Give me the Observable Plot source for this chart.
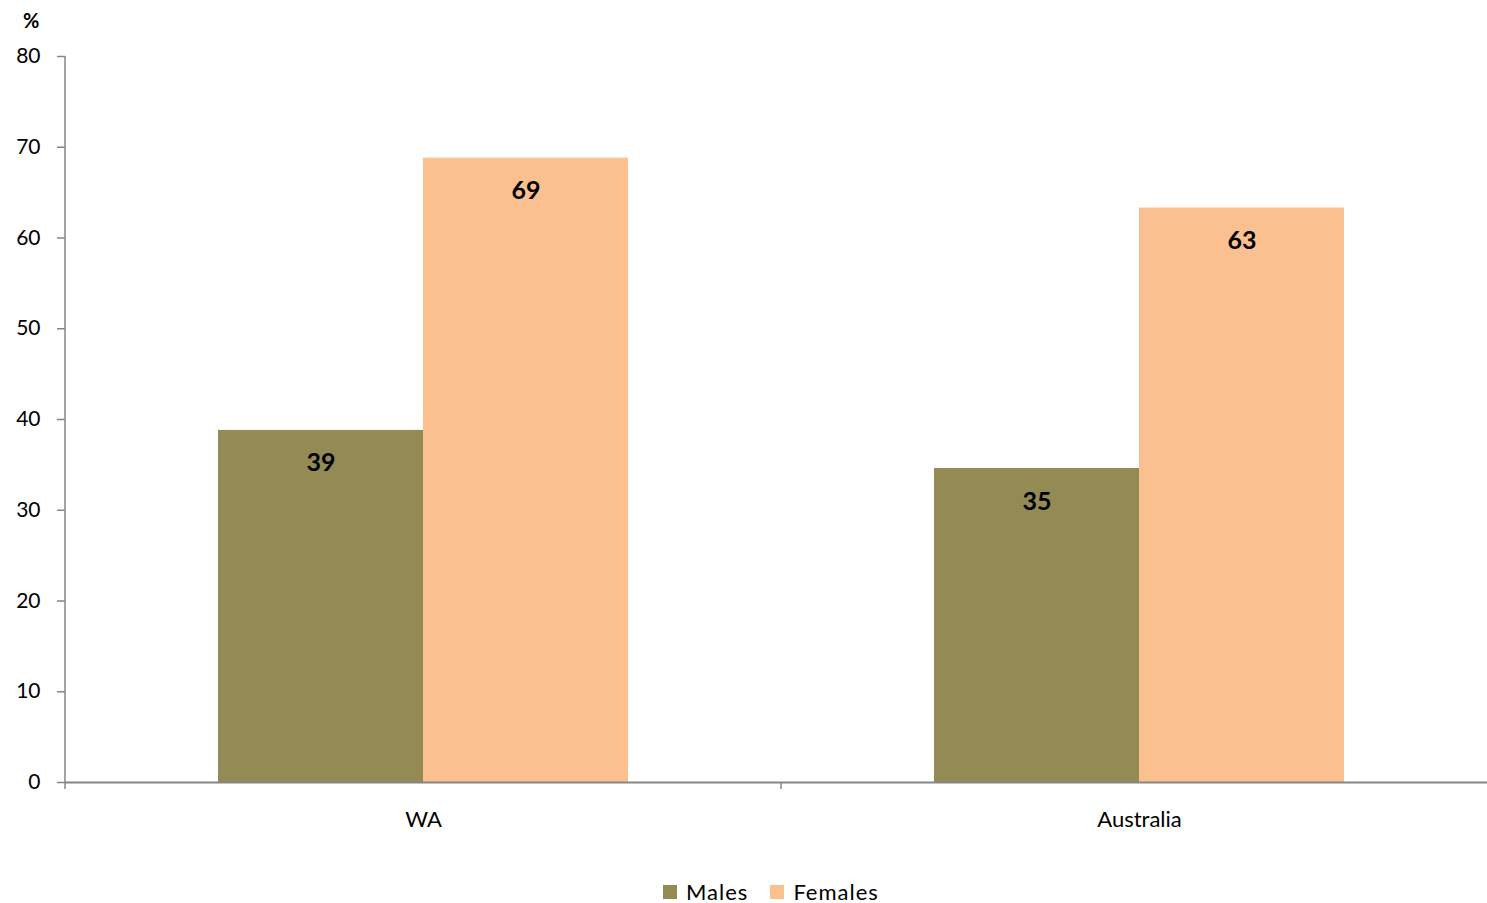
<!DOCTYPE html>
<html>
<head>
<meta charset="utf-8">
<script src="https://cdn.jsdelivr.net/npm/d3@7"></script>
<script src="https://cdn.jsdelivr.net/npm/@observablehq/plot@0.6"></script>
<style>
  html, body { margin: 0; padding: 0; background: #fff; }
  body { width: 1487px; height: 903px; position: relative; overflow: hidden; font-family: Lato, "Open Sans", sans-serif; }
  #unit { position: absolute; left: 23px; top: 8px; font-size: 20px; line-height: 24px; font-weight: bold; color: #000; }
  #chart { position: absolute; left: 0; top: 0; }
  #legend { position: absolute; left: 663px; top: 880px; display: flex; align-items: center; font-size: 22px; line-height: 24px; letter-spacing: 1px; color: #000; white-space: nowrap; }
  .item { display: flex; align-items: center; margin-right: 22px; }
  .sw { width: 14px; height: 14px; margin-right: 9px; }
</style>
</head>
<body>
<div id="unit">%</div>
<div id="chart"></div>
<div id="legend"></div>
<script>
const categories = ["WA", "Australia"];
const series = ["Males", "Females"];
const males = [38.8, 34.6];
const females = [68.8, 63.3];
const yTicks = [0, 10, 20, 30, 40, 50, 60, 70, 80];
const colors = ["#948A54", "#FAC090"];

const data = categories.flatMap((c, i) => [
  {cat: c, sex: series[0], value: males[i]},
  {cat: c, sex: series[1], value: females[i]}
]);

const axisColor = "#868686";

const chart = Plot.plot({
  width: 1487,
  height: 845,
  marginLeft: 65,
  marginRight: -10,
  marginTop: 56,
  marginBottom: 63,
  style: {fontFamily: "Lato, 'Open Sans', sans-serif", fontSize: "21px", color: "#000", background: "transparent", overflow: "visible"},
  fx: {domain: categories, padding: 0, label: null},
  x: {domain: series, paddingInner: 0, paddingOuter: 0.746, axis: null},
  y: {domain: [0, 80], label: null, axis: null},
  color: {domain: series, range: colors},
  marks: [
    Plot.barY(data, {fx: "cat", x: "sex", y: "value", fill: "sex"}),
    Plot.text(data, {fx: "cat", x: "sex", y: "value", text: d => String(Math.round(d.value)), dy: 33, fontWeight: "bold", fontSize: 25, fill: "#000"}),
    Plot.ruleY([0], {stroke: axisColor, strokeWidth: 2}),
    Plot.axisY({ticks: yTicks, tickSize: 8, tickPadding: 17, stroke: axisColor, strokeWidth: 1.5, fill: "#000", fontSize: 21, label: null}),
    Plot.axisFx({anchor: "bottom", tickSize: 0, tickPadding: 29, fontSize: 22, fill: "#000", label: null, style: "letter-spacing: 1px"})
  ]
});
document.getElementById("chart").appendChild(chart);

// Category-boundary ticks and the y-axis line, placed through the plot's own scales
const fxScale = chart.scale("fx");
const yScale = chart.scale("y");
const yBase = yScale.apply(0);
const g = d3.select(chart).append("g").attr("stroke", axisColor).attr("stroke-width", 1.5);
const bounds = categories.map(c => fxScale.apply(c));
bounds.push(fxScale.apply(categories[categories.length - 1]) + fxScale.bandwidth);
bounds.forEach(x => {
  g.append("line").attr("x1", x).attr("x2", x).attr("y1", yBase).attr("y2", yBase + 7);
});
g.append("line").attr("x1", bounds[0]).attr("x2", bounds[0])
  .attr("y1", yScale.apply(yTicks[yTicks.length - 1])).attr("y2", yBase);

const legend = d3.select("#legend");
series.forEach((s, i) => {
  const it = legend.append("div").attr("class", "item");
  it.append("div").attr("class", "sw").style("background", colors[i]);
  it.append("span").text(s);
});
</script>
</body>
</html>
